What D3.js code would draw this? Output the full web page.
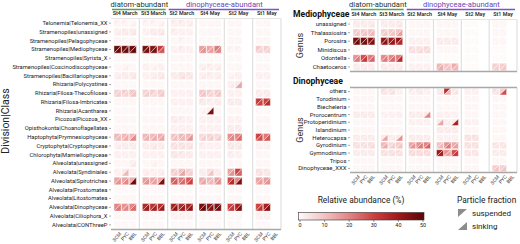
<!DOCTYPE html>
<html>
<head>
<meta charset="utf-8">
<script src="https://cdn.jsdelivr.net/npm/d3@7"></script>
<style>
  body { margin: 0; background: #fff; }
  svg { font-family: Roboto, "Liberation Sans", sans-serif; }
</style>
</head>
<body>
<div id="chart"></div>
<script>
const width = 520;
const height = 244;
const _ = null; // no sample

// stations / depths
const groups = ["St4 March", "St3 March", "St2 March", "St4 May", "St2 May", "St1 May"];
const depths = ["SCM", "PYC", "BBL"];
const headerLabels = ["diatom-abundant", "dinophyceae-abundant"];
const headerSpans = [[0, 1], [2, 5]];
const colorTicks = [0, 10, 20, 30, 40, 50];
const fractionLabels = ["suspended", "sinking"];

// left panel: Division|Class
const classLabels = [
  "Telonemia|Telonemia_XX", "Stramenopiles|unassigned", "Stramenopiles|Pelagophyceae",
  "Stramenopiles|Mediophyceae", "Stramenopiles|Syrista_X", "Stramenopiles|Coscinodiscophyceae",
  "Stramenopiles|Bacillariophyceae", "Rhizaria|Polycystinea", "Rhizaria|Filosa-Thecofilosea",
  "Rhizaria|Filosa-Imbricatea", "Rhizaria|Acantharea", "Picozoa|Picozoa_XX",
  "Opisthokonta|Choanoflagellatea", "Haptophyta|Prymnesiophyceae", "Cryptophyta|Cryptophyceae",
  "Chlorophyta|Mamiellophyceae", "Alveolata|unassigned", "Alveolata|Syndiniales",
  "Alveolata|Spirotrichea", "Alveolata|Prostomatea", "Alveolata|Litostomatea",
  "Alveolata|Dinophyceae", "Alveolata|Ciliophora_X", "Alveolata|CONThreeP"
];
const classSuspended = [
  [2, 2, 1, 2, 2, 1, 3, 3, 2, 1, 1, 1, 1, 1, _, 1, 1, _],
  [2, 3, 3, 2, 3, 3, 3, 2, 2, 1, 1, 1, 1, 1, _, 1, 1, _],
  [1, 1, 1, 1, 1, 1, 1, 2, 1, 1, 1, 1, 1, 1, _, 1, 1, _],
  [48, 47, 47, 46, 44, 32, 2, 3, 2, 16, 15, 22, 2, 2, _, 9, 8, _],
  [0.5, 0.5, 0.5, 0.5, 0.5, 0.5, 1, 1, 1, 0.5, 0.5, 0.5, 0.5, 0.5, _, 0.5, 0.5, _],
  [1, 1, 1, 2, 1, 2, 1, 1, 1, 2, 3, 2, 1, 1, _, 1, 1, _],
  [2, 3, 3, 2, 2, 3, 3, 4, 4, 2, 3, 2, 1, 2, _, 2, 2, _],
  [0.5, 0.5, 0.5, 0.5, 0.5, 0.5, 1, 1, 1, 1, 1, 1, 2, 3, _, 1, 1, _],
  [7, 8, 9, 7, 8, 8, 2, 2, 2, 9, 8, 8, 2, 2, _, 3, 3, _],
  [1, 1, 1, 1, 1, 1, 2, 2, 2, 4, 3, 3, 3, 3, _, 32, 30, _],
  [0.5, 0.5, 0.5, 0.5, 0.5, 0.5, 1, 1, 1, 1, 2, 1, 1, 1, _, 0.5, 0.5, _],
  [1, 1, 1, 1, 1, 1, 3, 3, 2, 2, 2, 2, 2, 2, _, 1, 1, _],
  [1, 1, 1, 1, 1, 1, 2, 2, 2, 2, 2, 2, 3, 3, _, 1, 1, _],
  [12, 12, 12, 12, 12, 13, 10, 12, 12, 6, 7, 6, 18, 20, _, 30, 22, _],
  [2, 3, 3, 3, 3, 3, 5, 5, 4, 3, 2, 2, 4, 3, _, 2, 2, _],
  [2, 2, 2, 2, 2, 2, 4, 4, 3, 2, 2, 2, 3, 2, _, 1, 1, _],
  [1, 1, 2, 1, 1, 1, 1, 1, 1, 1, 1, 1, 1, 1, _, 1, 1, _],
  [2, 3, 2, 2, 2, 2, 8, 10, 8, 3, 5, 3, 15, 30, _, 5, 4, _],
  [15, 15, 14, 16, 15, 14, 25, 22, 26, 14, 12, 16, 28, 20, _, 15, 16, _],
  [0.5, 0.5, 0.5, 0.5, 0.5, 0.5, 0.5, 0.5, 0.5, 0.5, 0.5, 0.5, 0.5, 0.5, _, 0.5, 0.5, _],
  [1, 1, 1, 1, 1, 1, 1, 1, 1, 1, 1, 1, 1, 1, _, 1, 1, _],
  [20, 18, 20, 36, 34, 35, 38, 36, 38, 46, 42, 44, 30, 38, _, 30, 38, _],
  [1, 1, 1, 1, 1, 1, 2, 2, 2, 1, 1, 1, 1, 1, _, 2, 2, _],
  [0.5, 0.5, 0.5, 0.5, 0.5, 0.5, 0.5, 0.5, 0.5, 0.5, 0.5, 0.5, 0.5, 0.5, _, 0.5, 0.5, _]
];
const classSinking = [
  [1, 1, 2, 1, 1, 2, 2, 2, 3, 1, 1, 1, 1, 1, _, 0.5, 1, _],
  [3, 3, 4, 2, 3, 4, 2, 2, 2, 1, 1, 1, 1, 1, _, 1, 1, _],
  [1, 1, 1, 1, 1, 1, 1, 1, 1, 0.5, 0.5, 0.5, 1, 1, _, 1, 1, _],
  [47, 48, 49, 46, 45, 27, 2, 2, 2, 18, 16, 20, 1, 1, _, 7, 7, _],
  [0.5, 0.5, 0.5, 0.5, 0.5, 0.5, 1, 1, 1, 0.5, 0.5, 0.5, 0.5, 0.5, _, 0.5, 0.5, _],
  [1, 2, 1, 2, 2, 2, 1, 1, 1, 3, 2, 3, 1, 1, _, 1, 1, _],
  [3, 3, 4, 2, 3, 4, 3, 5, 4, 3, 2, 3, 2, 2, _, 2, 2, _],
  [0.5, 0.5, 0.5, 0.5, 0.5, 0.5, 1, 1, 1, 1, 1, 1, 3, 15, _, 1, 1, _],
  [8, 7, 10, 8, 6, 9, 2, 2, 2, 10, 7, 9, 2, 2, _, 3, 3, _],
  [1, 1, 1, 1, 1, 1, 2, 2, 2, 3, 2, 3, 3, 3, _, 30, 35, _],
  [0.5, 0.5, 0.5, 0.5, 0.5, 0.5, 1, 1, 1, 2, 45, 1, 1, 1, _, 0.5, 0.5, _],
  [1, 1, 1, 1, 1, 1, 3, 2, 2, 2, 2, 2, 2, 2, _, 1, 1, _],
  [1, 1, 1, 1, 1, 1, 2, 2, 2, 2, 2, 2, 3, 3, _, 1, 1, _],
  [12, 14, 20, 13, 14, 15, 11, 12, 18, 8, 8, 8, 20, 24, _, 28, 27, _],
  [3, 3, 3, 3, 4, 3, 5, 5, 5, 2, 2, 2, 4, 4, _, 2, 2, _],
  [2, 2, 2, 2, 2, 2, 4, 3, 3, 2, 2, 2, 2, 2, _, 1, 1, _],
  [1, 1, 3, 1, 2, 1, 1, 1, 1, 1, 1, 1, 1, 1, _, 1, 1, _],
  [2, 12, 2, 3, 2, 3, 8, 15, 8, 3, 10, 3, 18, 25, _, 5, 4, _],
  [18, 20, 48, 18, 16, 45, 26, 24, 30, 15, 12, 18, 35, 45, _, 16, 18, _],
  [0.5, 0.5, 0.5, 0.5, 0.5, 0.5, 0.5, 0.5, 0.5, 0.5, 0.5, 0.5, 0.5, 0.5, _, 0.5, 0.5, _],
  [1, 1, 1, 1, 1, 1, 1, 1, 1, 1, 1, 1, 1, 1, _, 1, 1, _],
  [22, 20, 24, 40, 38, 40, 42, 40, 42, 48, 44, 46, 32, 45, _, 33, 44, _],
  [1, 1, 1, 1, 1, 1, 2, 2, 2, 1, 1, 1, 1, 1, _, 2, 2, _],
  [0.5, 0.5, 0.5, 0.5, 0.5, 0.5, 0.5, 0.5, 0.5, 0.5, 0.5, 0.5, 0.5, 0.5, _, 0.5, 0.5, _]
];

// right panel: Mediophyceae genera
const medioLabels = ["unassigned", "Thalassiosira", "Porosira", "Minidiscus", "Odontella", "Chaetoceros"];
const medioSuspended = [
  [3, 3, 3, 3, 3, 3, 1, 1, 1, 1, 1, 1, 0, 0, _, 1, 1, _],
  [8, 9, 10, 8, 9, 10, 1, 1, 1, 1, 1, 1, 0, 0, _, 1, 1, _],
  [46, 45, 44, 42, 40, 42, 2, 2, 2, 3, 3, 3, 0, 0, _, 1, 1, _],
  [0, 0, 0, 0, 0, 0, 5, 5, 6, 1, 1, 1, 0, 0, _, 0, 0, _],
  [18, 28, 22, 20, 20, 22, 1, 1, 1, 0, 0, 0, 0, 0, _, 0, 0, _],
  [3, 3, 3, 3, 3, 3, 2, 2, 2, 12, 10, 14, 0, 0, _, 8, 8, _]
];
const medioSinking = [
  [3, 3, 4, 3, 3, 4, 1, 1, 1, 1, 1, 1, 0, 0, _, 1, 1, _],
  [9, 10, 12, 9, 10, 16, 1, 1, 1, 1, 1, 1, 0, 0, _, 1, 1, _],
  [47, 46, 45, 43, 41, 36, 2, 2, 2, 3, 3, 3, 0, 0, _, 1, 1, _],
  [0, 0, 0, 0, 0, 0, 5, 6, 6, 1, 1, 1, 0, 0, _, 0, 0, _],
  [22, 32, 25, 22, 24, 35, 1, 1, 1, 0, 0, 0, 0, 0, _, 0, 0, _],
  [3, 3, 3, 3, 3, 3, 2, 2, 2, 14, 10, 12, 0, 0, _, 8, 9, _]
];

// right panel: Dinophyceae genera
const dinoLabels = [
  "others", "Torodinium", "Biecheleria", "Prorocentrum", "Protoperidinium", "Islandinium",
  "Heterocapsa", "Gyrodinium", "Gymnodinium", "Tripos", "Dinophyceae_XXX"
];
const dinoSuspended = [
  [1, 1, 1, 5, 4, 2, 3, 3, 2, 3, 35, 3, 2, 2, _, 5, 8, _],
  [1, 1, 1, 1, 1, 1, 1, 1, 1, 1, 1, 1, 1, 1, _, 1, 1, _],
  [1, 1, 1, 1, 1, 1, 1, 1, 1, 1, 1, 1, 1, 1, _, 1, 1, _],
  [3, 3, 3, 2, 2, 2, 3, 3, 3, 2, 2, 2, 1, 1, _, 1, 1, _],
  [1, 1, 1, 1, 1, 1, 2, 2, 2, 3, 2, 3, 2, 2, _, 1, 1, _],
  [1, 1, 1, 1, 1, 1, 1, 1, 1, 3, 3, 3, 1, 1, _, 1, 1, _],
  [3, 3, 3, 3, 3, 3, 3, 3, 3, 2, 2, 2, 5, 5, _, 1, 1, _],
  [5, 5, 5, 12, 6, 8, 15, 18, 20, 10, 18, 14, 5, 5, _, 4, 4, _],
  [3, 3, 3, 5, 5, 5, 6, 6, 6, 40, 18, 28, 4, 4, _, 3, 3, _],
  [1, 1, 1, 1, 1, 1, 1, 1, 1, 1, 1, 1, 1, 1, _, 1, 1, _],
  [1, 1, 1, 1, 1, 1, 1, 1, 1, 1, 1, 1, 1, 1, _, 8, 8, _]
];
const dinoSinking = [
  [1, 1, 1, 4, 5, 2, 2, 3, 2, 4, 12, 4, 2, 2, _, 4, 28, _],
  [1, 1, 1, 1, 1, 1, 1, 1, 1, 1, 1, 1, 1, 1, _, 1, 1, _],
  [1, 1, 1, 1, 1, 1, 1, 1, 1, 1, 1, 1, 1, 1, _, 1, 1, _],
  [3, 3, 3, 2, 2, 2, 3, 3, 20, 2, 2, 2, 1, 1, _, 1, 1, _],
  [1, 1, 1, 1, 1, 1, 2, 2, 2, 15, 3, 38, 2, 2, _, 1, 1, _],
  [1, 1, 1, 1, 1, 1, 1, 1, 1, 3, 3, 3, 1, 1, _, 1, 1, _],
  [3, 3, 3, 15, 3, 18, 3, 3, 3, 2, 2, 2, 5, 5, _, 1, 1, _],
  [5, 5, 6, 14, 8, 10, 18, 22, 25, 12, 22, 16, 5, 5, _, 4, 4, _],
  [3, 3, 3, 5, 5, 5, 6, 6, 6, 38, 15, 32, 4, 4, _, 3, 3, _],
  [1, 1, 1, 1, 1, 1, 1, 1, 1, 1, 1, 1, 1, 1, _, 1, 1, _],
  [1, 1, 1, 1, 1, 1, 1, 1, 1, 1, 1, 1, 1, 1, _, 10, 10, _]
];

const svg = d3.select("#chart").append("svg")
  .attr("width", width)
  .attr("height", height)
  .attr("viewBox", [0, 0, width, height]);

const color = d3.scaleLinear()
  .domain([0, 10, 20, 30, 40, 50])
  .range(["#fffafa", "#f3c4c4", "#e38686", "#cd4040", "#a01818", "#5c0606"])
  .clamp(true);

const headerColors = ["#55a055", "#7b55c8"];
const headerText = ["#263326", "#6a45b8"];

// one heatmap block, each cell split into suspended (upper-left) and sinking (lower-right)
function drawPanel(labels, susp, sink, x0, x1, y0, y1, opts) {
  const g = svg.append("g");
  const gx = d3.scaleBand().domain(groups).range([x0, x1]);
  const dx = d3.scaleBand().domain(depths).range([0, gx.bandwidth()]).paddingOuter(0.4).paddingInner(0.06);
  const y = d3.scaleBand().domain(labels).range([y0, y1]).paddingInner(0.14).paddingOuter(0.1);

  const cells = [];
  labels.forEach((lab, r) => {
    groups.forEach((grp, gi) => {
      depths.forEach((dep, di) => {
        const c = gi * 3 + di;
        if (susp[r][c] == null) return;
        cells.push({ lab, grp, dep, s: susp[r][c], k: sink[r][c] });
      });
    });
  });

  const cx = d => gx(d.grp) + dx(d.dep);
  const w = dx.bandwidth(), h = y.bandwidth();

  g.selectAll("path.s").data(cells).join("path")
    .attr("class", "s")
    .attr("d", d => `M${cx(d)},${y(d.lab)}h${w}L${cx(d)},${y(d.lab) + h}Z`)
    .attr("fill", d => color(d.s))
    .attr("stroke", "#fff").attr("stroke-width", 0.4);

  g.selectAll("path.k").data(cells).join("path")
    .attr("class", "k")
    .attr("d", d => `M${cx(d) + w},${y(d.lab)}v${h}h${-w}Z`)
    .attr("fill", d => color(d.k))
    .attr("stroke", "#fff").attr("stroke-width", 0.4);

  // facet separators
  g.selectAll("line.sep").data(groups.slice(1)).join("line")
    .attr("class", "sep")
    .attr("x1", d => gx(d)).attr("x2", d => gx(d))
    .attr("y1", y0).attr("y2", y1)
    .attr("stroke", "#e0e0e0").attr("stroke-width", 1.2);
  g.append("line").attr("x1", x1).attr("x2", x1).attr("y1", y0).attr("y2", y1)
    .attr("stroke", "#e0e0e0").attr("stroke-width", 1.2);

  if (opts.topLine) {
    g.append("line").attr("x1", x0).attr("x2", x1).attr("y1", y0).attr("y2", y0)
      .attr("stroke", opts.topLine).attr("stroke-width", opts.topWidth || 1);
  }
  g.append("line").attr("x1", x0).attr("x2", x1).attr("y1", y1).attr("y2", y1)
    .attr("stroke", "#a8a8a8").attr("stroke-width", 1.5);

  // y axis
  const ya = g.append("g").attr("transform", `translate(${x0},0)`)
    .call(d3.axisLeft(y).tickSize(2).tickPadding(1.5));
  ya.select(".domain").remove();
  ya.selectAll(".tick line").attr("stroke", "#555").attr("stroke-width", 0.5);
  ya.selectAll(".tick text").attr("font-size", opts.labelSize).attr("fill", "#222")
    .attr("font-family", "Roboto, sans-serif");

  // strip labels
  if (opts.strips) {
    g.selectAll("text.strip").data(groups).join("text")
      .attr("class", "strip")
      .attr("x", d => gx(d) + gx.bandwidth() / 2)
      .attr("y", y0 - 3.5)
      .attr("text-anchor", "middle")
      .attr("font-size", 5.4).attr("font-weight", 600).attr("fill", "#2a2a2a")
      .text(d => d);
    headerLabels.forEach((lab, i) => {
      const a = gx(groups[headerSpans[i][0]]);
      const b = gx(groups[headerSpans[i][1]]) + gx.bandwidth();
      g.append("line").attr("x1", a + 1).attr("x2", b - 2).attr("y1", 9.5).attr("y2", 9.5)
        .attr("stroke", headerColors[i]).attr("stroke-width", 1.3);
      g.append("text").attr("x", (a + b) / 2).attr("y", 7)
        .attr("text-anchor", "middle").attr("font-size", 7.6).attr("fill", headerText[i])
        .text(lab);
    });
  }

  // x axis labels
  if (opts.xLabels) {
    const xl = [];
    groups.forEach(grp => depths.forEach(dep => xl.push({ grp, dep })));
    g.selectAll("text.xl").data(xl).join("text")
      .attr("class", "xl")
      .attr("transform", d => `translate(${gx(d.grp) + dx(d.dep) + w / 2 + 2},${y1 + 3}) rotate(-50)`)
      .attr("text-anchor", "end")
      .attr("dy", "0.5em")
      .attr("font-size", 4.9).attr("fill", "#444")
      .text(d => d.dep);
  }
  return g;
}

drawPanel(classLabels, classSuspended, classSinking, 111, 281, 18.5, 229.5,
  { labelSize: 5.8, strips: true, xLabels: true, topLine: "#e4e4e4" });
drawPanel(medioLabels, medioSuspended, medioSinking, 350, 517, 19.5, 71.5,
  { labelSize: 6, strips: true, xLabels: false, topLine: "#e4e4e4" });
drawPanel(dinoLabels, dinoSuspended, dinoSinking, 350, 517, 87.5, 172.5,
  { labelSize: 6, strips: false, xLabels: true, topLine: "#a8a8a8", topWidth: 1.6 });

// axis titles
svg.append("text")
  .attr("transform", "translate(8.5,121) rotate(-90)")
  .attr("text-anchor", "middle").attr("font-size", 10.5).attr("fill", "#222")
  .text("Division|Class");
svg.append("text").attr("x", 293).attr("y", 16.5)
  .attr("font-size", 8.6).attr("font-weight", 700).attr("fill", "#111").text("Mediophyceae");
svg.append("text").attr("x", 293).attr("y", 84)
  .attr("font-size", 8.6).attr("font-weight", 700).attr("fill", "#111").text("Dinophyceae");
[45.5, 130].forEach(cy => {
  svg.append("text")
    .attr("transform", `translate(303,${cy}) rotate(-90)`)
    .attr("text-anchor", "middle").attr("font-size", 9).attr("fill", "#333")
    .text("Genus");
});

// colour legend
const defs = svg.append("defs");
const grad = defs.append("linearGradient").attr("id", "abund-grad");
grad.selectAll("stop").data(d3.range(0, 51, 5)).join("stop")
  .attr("offset", d => `${d * 2}%`)
  .attr("stop-color", d => color(d));

const lx = d3.scaleLinear().domain([0, 50]).range([299.5, 422.5]);
svg.append("text").attr("x", 361).attr("y", 203)
  .attr("text-anchor", "middle").attr("font-size", 8.4).attr("fill", "#222")
  .text("Relative abundance (%)");
svg.append("rect").attr("x", 298.5).attr("y", 212.5).attr("width", 125.5).attr("height", 7.5)
  .attr("fill", "url(#abund-grad)").attr("stroke", "#333").attr("stroke-width", 0.6);
const la = svg.append("g").attr("transform", "translate(0,220)")
  .call(d3.axisBottom(lx).tickValues(colorTicks).tickSize(2).tickPadding(1.5));
la.select(".domain").remove();
la.selectAll(".tick line").attr("stroke", "#333").attr("stroke-width", 0.5);
la.selectAll(".tick text").attr("font-size", 5.4).attr("fill", "#222")
  .attr("font-family", "Roboto, sans-serif");

// particle fraction legend
svg.append("text").attr("x", 457).attr("y", 202.5)
  .attr("font-size", 8.4).attr("fill", "#222").text("Particle fraction");
const icon = [
  "M458,209h9L458,217Z",
  "M467,222v8h-9Z"
];
fractionLabels.forEach((lab, i) => {
  svg.append("path").attr("d", icon[i]).attr("fill", "#8c8c8c");
  svg.append("text").attr("x", 472).attr("y", i === 0 ? 215.5 : 229)
    .attr("font-size", 8).attr("fill", "#222").text(lab);
});
</script>
</body>
</html>
